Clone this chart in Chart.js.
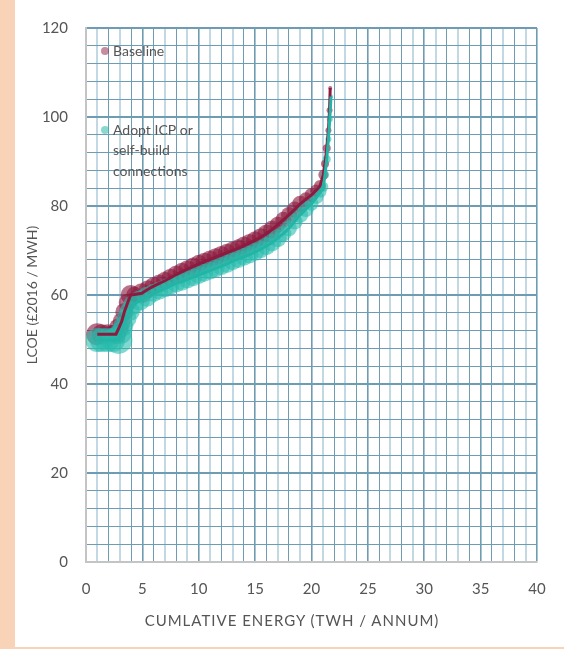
<!DOCTYPE html>
<html>
<head>
<meta charset="utf-8">
<title>LCOE supply curve</title>
<script src="https://cdn.jsdelivr.net/npm/chart.js@4.4.1/dist/chart.umd.min.js"></script>
<style>
  html, body { margin: 0; padding: 0; background: #fff; }
  body { width: 564px; height: 649px; position: relative; overflow: hidden; }
  .edge-left { position: absolute; left: 0; top: 0; width: 15px; height: 649px; background: #F8D3B7; }
  .edge-bottom { position: absolute; left: 0; top: 647px; width: 564px; height: 2px; background: #F8D3B7; }
  .wrap { position: absolute; left: 15px; top: 0; width: 549px; height: 647px; }
  .x-title {
    position: absolute; left: 132px; top: 611px; width: 320px; height: 18px;
    font: 15px/18px Lato, 'Open Sans', sans-serif; color: #555; letter-spacing: 1px;
    text-align: center; white-space: nowrap;
  }
</style>
</head>
<body>
<div class="edge-left"></div>
<div class="edge-bottom"></div>
<div class="wrap"><canvas id="curve"></canvas></div>
<div class="x-title">CUMLATIVE ENERGY (TWH / ANNUM)</div>

<script>
/* ── Data ────────────────────────────────────────────────── */
const xLabels = [0, 5, 10, 15, 20, 25, 30, 35, 40];
const yLabels = [0, 20, 40, 60, 80, 100, 120];

const baselineX = [1.0, 1.4, 1.9, 2.3, 2.66, 2.9, 3.16, 3.4, 3.7, 3.96, 4.3, 4.94, 5.5, 6.0, 6.5, 7.0, 7.5, 8.0, 8.5, 9.0,
  9.5, 10.0, 10.5, 11.0, 11.5, 12.0, 12.5, 13.0, 13.5, 14.0, 14.5, 15.0, 15.5, 16.0, 16.5, 17.0, 17.5, 18.0, 18.5, 19.0,
  19.5, 20.0, 20.4, 20.75, 21.05, 21.2, 21.35, 21.5, 21.6, 21.66];
const baselineY = [51.2, 51.2, 51.2, 51.2, 51.2, 52.5, 54.0, 56.2, 58.3, 60.0, 60.1, 60.4, 61.3, 62.0, 62.6, 63.2, 63.9, 64.6, 65.2, 65.8,
  66.4, 67.0, 67.5, 68.0, 68.5, 69.0, 69.5, 70.0, 70.5, 71.1, 71.7, 72.3, 73.0, 73.8, 74.7, 75.8, 76.9, 78.0, 79.2, 80.5,
  81.5, 82.5, 83.5, 84.5, 87.0, 89.5, 93.0, 97.0, 101.5, 106.5];
const baselineSize = [11, 10, 10, 9, 10, 10, 9, 9, 9, 10, 8, 10, 9, 9, 9, 9, 9, 9, 9, 9,
  9, 9, 9, 9, 9, 9, 9, 9, 9, 9, 9, 9, 9, 9, 9, 8, 8, 8, 8, 8,
  7, 7, 6, 6, 5, 4, 4, 3, 3, 2];

const adoptX = [1.0, 1.4, 1.9, 2.4, 2.87, 3.1, 3.3, 3.6, 3.9, 4.2, 4.8, 5.4, 6.0, 6.5, 7.0, 7.5, 8.0, 8.5, 9.0, 9.5,
  10.0, 10.5, 11.0, 11.5, 12.0, 12.5, 13.0, 13.5, 14.0, 14.5, 15.0, 15.5, 16.0, 16.5, 17.0, 17.5, 18.0, 18.5, 19.0, 19.5,
  20.0, 20.45, 20.8, 21.05, 21.2, 21.35, 21.5, 21.62, 21.73];
const adoptY = [49.9, 49.9, 49.9, 49.9, 49.9, 51.5, 53.0, 54.8, 56.4, 57.8, 58.8, 59.6, 60.5, 61.0, 61.5, 62.1, 62.6, 63.0, 63.5, 64.0,
  64.5, 65.0, 65.5, 66.0, 66.5, 67.0, 67.6, 68.1, 68.6, 69.1, 69.7, 70.3, 71.0, 71.8, 72.8, 73.8, 75.0, 76.5, 78.0, 79.3,
  80.5, 82.0, 83.2, 84.3, 87.0, 90.5, 95.0, 99.5, 104.6];
const adoptSize = [12, 12, 12, 12, 14, 11, 10, 10, 10, 10, 10, 10, 9, 9, 9, 9, 9, 9, 9, 9,
  9, 9, 9, 9, 9, 9, 9, 9, 9, 9, 9, 9, 9, 9, 9, 8, 8, 8, 8, 8,
  7, 7, 6, 5, 4, 4, 3, 3, 2];

const seriesNames = ['Baseline', 'Adopt ICP or self-build connections'];

/* ── Colours ─────────────────────────────────────────────── */
const MAROON = '#8C1B3F';
const MAROON_FILL = 'rgba(140,27,63,0.62)';
const TEAL = '#22B5A6';
const TEAL_FILL = 'rgba(38,188,172,0.58)';
const GRID_DARK = '#6E9CB2';
const GRID_LIGHT = '#C2D8E2';
const TEXT = '#555555';
const FONT = "Lato, 'Open Sans', sans-serif";

const pts = (xs, ys) => xs.map((x, i) => ({ x, y: ys[i] }));
const bubbles = (xs, ys, rs) => xs.map((x, i) => ({ x, y: ys[i], r: rs[i] }));

/* ── Legend drawn inside the plot, top-left ──────────────── */
const insideLegend = {
  id: 'insideLegend',
  afterDraw(chart) {
    const { ctx, chartArea } = chart;
    const items = [
      { lines: ['Baseline'], color: 'rgba(140,27,63,0.5)', dy: 23 },
      { lines: ['Adopt ICP or', 'self-build', 'connections'], color: 'rgba(38,188,172,0.55)', dy: 102 },
    ];
    ctx.save();
    ctx.font = '14px ' + FONT;
    ctx.textBaseline = 'middle';
    items.forEach(it => {
      const x = chartArea.left + 19;
      const y = chartArea.top + it.dy;
      ctx.fillStyle = it.color;
      ctx.beginPath();
      ctx.arc(x, y, 4, 0, Math.PI * 2);
      ctx.fill();
      ctx.fillStyle = TEXT;
      it.lines.forEach((t, k) => ctx.fillText(t, x + 8, y + k * 20.5));
    });
    ctx.restore();
  }
};

/* ── Chart ───────────────────────────────────────────────── */
new Chart(document.getElementById('curve'), {
  data: {
    datasets: [
      { type: 'bubble', label: seriesNames[0], data: bubbles(baselineX, baselineY, baselineSize),
        backgroundColor: MAROON_FILL, borderWidth: 0, order: 4 },
      { type: 'bubble', label: seriesNames[1], data: bubbles(adoptX, adoptY, adoptSize),
        backgroundColor: TEAL_FILL, borderWidth: 0, order: 3 },
      { type: 'line', label: seriesNames[0], data: pts(baselineX, baselineY),
        borderColor: MAROON, borderWidth: 3, pointRadius: 0, tension: 0, order: 2 },
      { type: 'line', label: seriesNames[1], data: pts(adoptX, adoptY),
        borderColor: TEAL, borderWidth: 3, pointRadius: 0, tension: 0, order: 1 },
    ]
  },
  options: {
    responsive: true,
    maintainAspectRatio: false,
    animation: false,
    layout: { padding: { top: 28, right: 27, bottom: 0, left: 0 } },
    plugins: { legend: { display: false }, tooltip: { enabled: false } },
    scales: {
      x: {
        type: 'linear', min: 0, max: 40,
        afterFit: s => { s.height = 85; },
        ticks: {
          stepSize: 1, autoSkip: false, maxRotation: 0, padding: 18,
          color: TEXT, font: { family: FONT, size: 15 },
          callback: v => xLabels.includes(v) ? v : ''
        },
        grid: {
          drawTicks: false,
          color: c => (c.tick.value % 5 === 0 || c.tick.value % 2 === 0) ? GRID_DARK : GRID_LIGHT,
          lineWidth: c => c.tick.value % 5 === 0 ? 1.6 : (c.tick.value % 2 === 0 ? 1 : 2)
        },
        border: { color: '#C4C4C4', width: 2 }
      },
      y: {
        type: 'linear', min: 0, max: 120,
        afterFit: s => { s.width = 71; },
        ticks: {
          stepSize: 4, autoSkip: false, padding: 18,
          color: TEXT, font: { family: FONT, size: 15 },
          callback: v => yLabels.includes(v) ? v : ''
        },
        grid: {
          drawTicks: false,
          color: GRID_DARK,
          lineWidth: c => c.tick.value % 20 === 0 ? 2 : 1
        },
        border: { color: '#C4C4C4', width: 2 },
        title: {
          display: true, text: 'LCOE (£2016 / MWH)', color: TEXT,
          font: { family: FONT, size: 14 }, padding: { top: 9, bottom: 0 }
        }
      }
    }
  },
  plugins: [insideLegend]
});
</script>
</body>
</html>
